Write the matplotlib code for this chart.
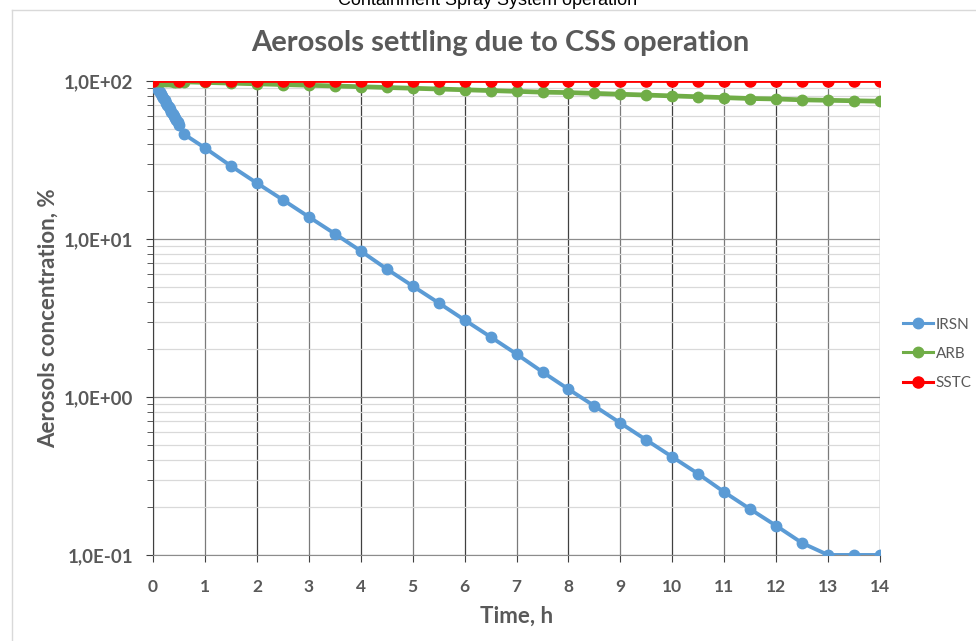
import numpy as np
import matplotlib
matplotlib.use("Agg")
import matplotlib.pyplot as plt
from matplotlib.ticker import FixedLocator, FuncFormatter, NullFormatter
from matplotlib.lines import Line2D

# ------------------------------------------------------------
# Data (time in h, concentration in %)
irsn_t = [0, 0.025, 0.05, 0.075, 0.1, 0.125, 0.15, 0.175, 0.2, 0.225, 0.25,
          0.275, 0.3, 0.325, 0.35, 0.375, 0.4, 0.425, 0.45, 0.475, 0.5, 0.6,
          1, 1.5, 2, 2.5, 3, 3.5, 4, 4.5, 5, 5.5, 6, 6.5, 7, 7.5, 8, 8.5,
          9, 9.5, 10, 10.5, 11, 11.5, 12, 12.5, 13, 13.5, 14]
irsn_c = [100, 97, 94, 91, 88, 85.5, 83, 80.5, 78, 75.5, 73,
          70.7, 68.5, 66.2, 64, 62, 60, 58.2, 56.5, 54.7, 53, 46,
          37.7, 29, 22.6, 17.7, 13.8, 10.8, 8.4, 6.46, 5.04, 3.94, 3.07, 2.4,
          1.87, 1.44, 1.12, 0.877, 0.684, 0.534, 0.417, 0.326, 0.25, 0.195,
          0.153, 0.119, 0.1, 0.1, 0.1]

arb_t = [0, 0.05, 0.1, 0.15, 0.2, 0.25, 0.3, 0.35, 0.4, 0.45, 0.5, 0.6,
         1, 1.5, 2, 2.5, 3, 3.5, 4, 4.5, 5, 5.5, 6, 6.5, 7, 7.5, 8, 8.5,
         9, 9.5, 10, 10.5, 11, 11.5, 12, 12.5, 13, 13.5, 14]
arb_c = [100, 100, 99.9, 99.8, 99.7, 99.6, 99.5, 99.4, 99.3, 99.2, 99, 98.8,
         98, 97, 96, 95, 94, 93, 92, 91, 90, 89, 88, 87, 86, 85, 84.5, 83.5,
         82.5, 81.5, 80.5, 79.5, 78.5, 77.5, 77, 76, 75.5, 75, 74.5]

sstc_t = [0, 0.5, 1, 1.5, 2, 2.5, 3, 3.5, 4, 4.5, 5, 5.5, 6, 6.5, 7, 7.5,
          8, 8.5, 9, 9.5, 10, 10.5, 11, 11.5, 12, 12.5, 13, 13.5, 14]
sstc_c = [100] * len(sstc_t)

x_ticks = list(range(0, 15))
y_major = [0.1, 1, 10, 100]

# ------------------------------------------------------------
grey = "#595959"
font = ["Lato", "DejaVu Sans"]
plt.rcParams["font.family"] = font

fig = plt.figure(figsize=(9.76, 6.41), dpi=100)
ax = fig.add_axes([0.1568, 0.1342, 0.7449, 0.7394])

ax.plot(irsn_t, irsn_c, color="#5b9bd5", lw=2.8, marker="o", ms=7.5,
        label="IRSN", zorder=3)
ax.plot(arb_t, arb_c, color="#70ad47", lw=3.4, marker="o", ms=7.5,
        label="ARB", zorder=4)
ax.plot(sstc_t, sstc_c, color="#ff0000", lw=2.0, marker="o", ms=8,
        label="SSTC", zorder=5)

ax.set_yscale("log")
ax.set_ylim(0.1, 100)
ax.set_xlim(0, 14)
ax.xaxis.set_major_locator(FixedLocator(x_ticks))
ax.yaxis.set_major_locator(FixedLocator(y_major))
ax.yaxis.set_minor_locator(FixedLocator(
    [m * d for d in [0.1, 1, 10] for m in range(2, 10)]))
ax.yaxis.set_major_formatter(FuncFormatter(
    lambda v, p: ("%.1E" % v).replace(".", ",")))
ax.yaxis.set_minor_formatter(NullFormatter())

# grid lines, Excel style
for t in x_ticks:
    ax.axvline(t, color="#404040" if t % 2 == 0 else "#7a7a7a",
               lw=0.9, zorder=1)
ax.grid(True, which="major", axis="y", color="#8c8c8c", lw=0.9, zorder=1)
ax.grid(True, which="minor", axis="y", color="#d9d9d9", lw=0.9, zorder=0)

for s in ["top", "right"]:
    ax.spines[s].set_visible(False)
ax.spines["left"].set_color("#404040")
ax.spines["bottom"].set_color("#8c8c8c")
ax.tick_params(axis="x", which="major", length=5, color="#404040",
               labelcolor=grey, labelsize=12.5, pad=12)
ax.tick_params(axis="y", which="major", length=5, color="#404040",
               labelcolor=grey, labelsize=13.5, pad=9)
ax.tick_params(axis="y", which="minor", length=4, color="#404040")
for lab in ax.get_xticklabels() + ax.get_yticklabels():
    lab.set_fontweight("bold")

ax.set_xlabel("Time, h", fontsize=16, fontweight="bold", color=grey,
              labelpad=8)
ax.set_ylabel("Aerosols concentration, %", fontsize=16, fontweight="bold",
              color=grey, labelpad=4)
fig.text(0.5125, 0.933, "Aerosols settling due to CSS operation",
         ha="center", va="center", fontsize=21, fontweight="bold", color=grey)

leg = ax.legend(loc="center left", bbox_to_anchor=(0.925, 0.448),
                bbox_transform=fig.transFigure, frameon=False,
                fontsize=11, handlelength=2.0, labelspacing=1.0,
                handletextpad=0.15, borderaxespad=0, borderpad=0)
for txt in leg.get_texts():
    txt.set_color(grey)
for h in leg.get_lines():
    h.set_linewidth(2.2)

# clipped heading of the page and chart frame
fig.text(0.5, 0.999, "Containment Spray System operation", ha="center",
         va="center", fontsize=13, color="black",
         family=["Liberation Sans", "DejaVu Sans"])
fig.add_artist(Line2D([0.012, 1.0], [0.984, 0.984], color="#d9d9d9",
                      lw=1.0, transform=fig.transFigure))
fig.add_artist(Line2D([0.012, 0.012], [0.0, 0.984], color="#d9d9d9",
                      lw=1.0, transform=fig.transFigure))

fig.savefig("out.png", dpi=100)
